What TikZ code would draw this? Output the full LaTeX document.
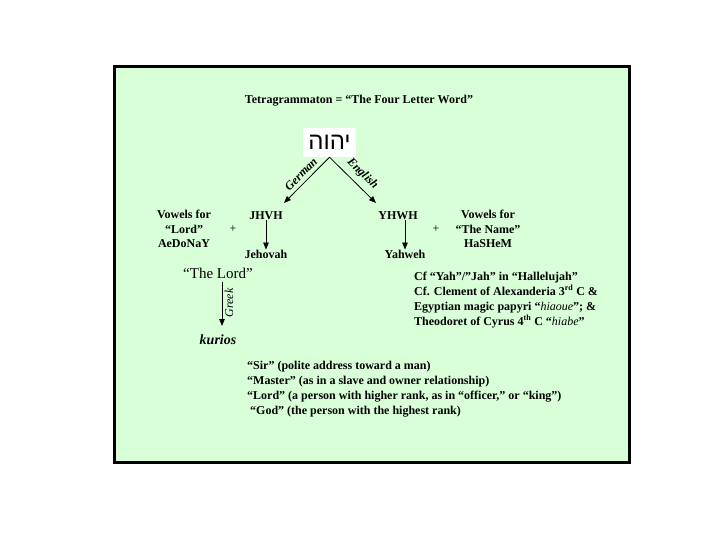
\documentclass[tikz,border=0pt]{standalone}
\usepackage{fontspec}
\setmainfont{Liberation Serif}
\newfontfamily\hebfont[Script=Hebrew]{Liberation Sans}
\TeXXeTstate=1
\usetikzlibrary{arrows.meta}
\definecolor{panel}{RGB}{217,255,217}
\tikzset{
  txt/.style={inner sep=0pt, font=\bfseries\fontsize{12}{14.5}\selectfont, align=center},
  blk/.style={inner sep=0pt, font=\bfseries\fontsize{12}{15}\selectfont, align=left, anchor=north west},
  lbl/.style={inner sep=0pt, font=\bfseries\itshape\fontsize{12}{14}\selectfont},
  arr/.style={line width=0.8pt, -{Triangle[length=7pt,width=5.5pt]}},
}
\begin{document}
\begin{tikzpicture}[x=1pt,y=-1pt]
\useasboundingbox (0,0) rectangle (720,540);
\fill[white] (0,0) rectangle (720,540);
\draw[line width=3pt, fill=panel] (114.5,66.5) rectangle (629.5,462.5);

\node[txt] (title) at (359,101) {Tetragrammaton = “The Four Letter Word”};

\node[fill=white, minimum width=53pt, minimum height=29pt, inner sep=0pt,
      font=\hebfont\fontsize{24}{24}\selectfont] (heb) at (329.5,142.5)
      {\raisebox{-2.5pt}{\beginR יהוה\endR}};

\coordinate (lt) at (284,203);
\coordinate (rt) at (376,203);
\draw[arr] (heb.south) -- (lt);
\draw[arr] (heb.south) -- (rt);
\node[lbl, rotate=45] (german) at (301,174) {German};
\node[lbl, rotate=-45] (english) at (362.5,174) {English};

% left side
\node[txt] (vl) at (184,229) {Vowels for\\“Lord”\\AeDoNaY};
\node[txt, font=\fontsize{12}{14}\selectfont] (plusl) at (233,229) {+};
\node[txt] (jhvh) at (266,216) {JHVH};
\node[txt] (jehovah) at (266,254) {Jehovah};
\draw[arr] (jhvh) -- (jehovah);

% right side
\node[txt] (yhwh) at (398,216) {YHWH};
\node[txt] (yahweh) at (405,254) {Yahweh};
\draw[arr] (yhwh.south -| yahweh) -- (yahweh);
\node[txt, font=\fontsize{12}{14}\selectfont] (plusr) at (436,229) {+};
\node[txt] (vr) at (488,229) {Vowels for\\“The Name”\\HaSHeM};

% The Lord -> kurios
\node[inner sep=0pt, font=\fontsize{15}{15}\selectfont] (lord) at (218,273) {“The Lord”};
\node[inner sep=0pt, font=\bfseries\itshape\fontsize{14}{14}\selectfont] (kurios) at (218,340) {kurios};
\draw[arr] (lord.south -| 222,0) ++(0,4) coordinate (gtop) -- (222,326) coordinate (gbot);
\node[inner sep=0pt, rotate=90, font=\itshape\fontsize{12}{12}\selectfont] (greek) at (229,303) {Greek};

% Cf block
\node[blk] (cf) at (414,271.5) {Cf “Yah”/”Jah” in “Hallelujah”\\
Cf. Clement of Alexanderia 3\textsuperscript{rd} C \&\\
Egyptian magic papyri “{\normalfont\itshape hiaoue}”; \&\\
Theodoret of Cyrus 4\textsuperscript{th} C “{\normalfont\itshape hiabe}”};

% meanings
\node[blk] (mean) at (247,361) {“Sir” (polite address toward a man)\\
“Master” (as in a slave and owner relationship)\\
“Lord” (a person with higher rank, as in “officer,” or “king”)\\
\hspace{3pt}“God” (the person with the highest rank)};
\end{tikzpicture}
\end{document}
